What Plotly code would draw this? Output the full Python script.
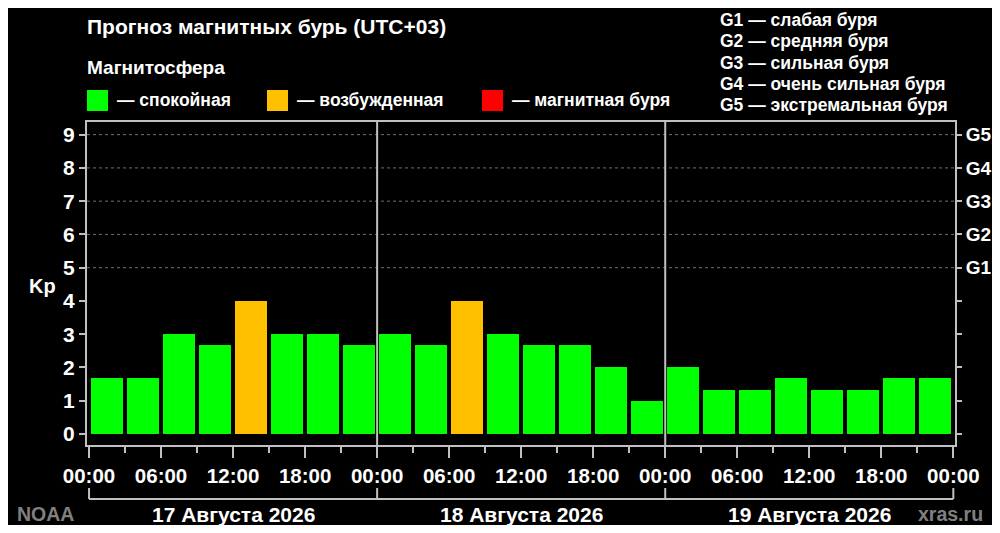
import plotly.graph_objects as go

# прогноз Kp по трёхчасовым интервалам (UTC+03)
days = ["17 Августа 2026", "18 Августа 2026", "19 Августа 2026"]
kp_day17 = [1.67, 1.67, 3.0, 2.67, 4.0, 3.0, 3.0, 2.67]
kp_day18 = [3.0, 2.67, 4.0, 3.0, 2.67, 2.67, 2.0, 1.0]
kp_day19 = [2.0, 1.33, 1.33, 1.67, 1.33, 1.33, 1.67, 1.67]
hour_labels = ["00:00", "06:00", "12:00", "18:00"]
storm_levels = ["G1", "G2", "G3", "G4", "G5"]
storm_names = ["слабая буря", "средняя буря", "сильная буря",
               "очень сильная буря", "экстремальная буря"]
legend_items = [("#00ff00", "— спокойная"), ("#ffc000", "— возбужденная"),
                ("#ff0000", "— магнитная буря")]

kp = kp_day17 + kp_day18 + kp_day19
hours = [3 * i + 1.5 for i in range(len(kp))]
colors = ["#ff0000" if v >= 5 else "#ffc000" if v >= 4 else "#00ff00" for v in kp]
total_h = 24 * len(days)
tickvals = list(range(0, total_h + 1, 6))
ticktext = [hour_labels[(t // 6) % 4] for t in tickvals]

# page has an 8px body margin, so the figure is smaller and shifted (no scrollbars)
OFF = 8
W, H = 1000 - 2 * OFF, 533 - 2 * OFF
L, R, T, B = 87 - OFF, 955 - OFF, 122 - OFF, 445 - OFF
def px(x):
    return (x - OFF - L) / (R - L)
def py(y):
    return (B - (y - OFF)) / (B - T)

FONT = "Liberation Sans"
GREY = "#c0c0c0"

fig = go.Figure()
fig.add_trace(go.Bar(x=hours, y=kp, width=2.67, marker=dict(color=colors, line=dict(width=0)),
                     hoverinfo="x+y"))
fig.add_trace(go.Scatter(x=[0], y=[0], yaxis="y2", mode="markers",
                         marker=dict(opacity=0), hoverinfo="skip"))

shapes = []
# пунктирная сетка на уровнях бурь
for k in range(5, 10):
    shapes.append(dict(type="line", xref="paper", yref="y", x0=0, x1=1, y0=k, y1=k,
                       line=dict(color="#707070", width=1, dash="dot"), layer="below"))
# разделители дней
for d in range(1, len(days)):
    shapes.append(dict(type="line", xref="x", yref="paper", x0=24 * d, x1=24 * d, y0=0, y1=1,
                       line=dict(color=GREY, width=2)))
# скобка под датами
shapes.append(dict(type="line", xref="x", yref="paper", x0=0, x1=total_h,
                   y0=py(499), y1=py(499), line=dict(color=GREY, width=2)))
for d in range(len(days) + 1):
    shapes.append(dict(type="line", xref="x", yref="paper", x0=24 * d, x1=24 * d,
                       y0=py(488), y1=py(499), line=dict(color=GREY, width=2)))

annotations = []
def txt(x, y, text, size, color="white", anchor="left", bold=True):
    annotations.append(dict(xref="paper", yref="paper", x=px(x), y=py(y), text=text,
                            showarrow=False, xanchor=anchor, yanchor="middle",
                            font=dict(family=FONT, size=size, color=color,
                                      weight="bold" if bold else "normal")))

txt(85, 27, "Прогноз магнитных бурь (UTC+03)", 21)
txt(85, 67, "Магнитосфера", 19)
leg_x = [87, 267, 482]
for (col, label), x0 in zip(legend_items, leg_x):
    shapes.append(dict(type="rect", xref="paper", yref="paper", x0=px(x0), x1=px(x0 + 21),
                       y0=py(111), y1=py(90), fillcolor=col, line=dict(width=0)))
    txt(x0 + 28, 100, label, 17.5)
for i, (g, name) in enumerate(zip(storm_levels, storm_names)):
    txt(718, 20 + 21.3 * i, f"{g} — {name}", 17.5)
txt(42, 286, "Kp", 20, anchor="center")
for d, label in enumerate(days):
    annotations.append(dict(xref="x", yref="paper", x=24 * d + 12, y=py(514), text=label,
                            showarrow=False, xanchor="center", yanchor="middle",
                            font=dict(family=FONT, size=21, color="white", weight="bold")))
txt(45, 514, "NOAA", 19.5, color="#808080", anchor="center")
txt(950, 514, "xras.ru", 19.5, color="#808080", anchor="center")

yrange = [-0.33, 9.38]
fig.update_layout(
    width=W, height=H,
    margin=dict(l=L, r=W - R, t=T, b=H - B, autoexpand=False),
    paper_bgcolor="black", plot_bgcolor="black",
    showlegend=False, bargap=0,
    font=dict(family=FONT, color="white"),
    shapes=shapes, annotations=annotations,
    xaxis=dict(range=[-0.17, total_h + 0.14], tickmode="array", tickvals=tickvals,
               ticktext=ticktext, ticks="outside", ticklen=11, tickwidth=2, tickcolor=GREY,
               showgrid=False, zeroline=False, showline=True, linecolor=GREY, linewidth=2,
               mirror=True, tickfont=dict(size=20.5, weight="bold", color="white"),
               minor=dict(tickmode="array", tickvals=list(range(3, total_h, 6)),
                          ticks="outside", ticklen=6, tickwidth=2, tickcolor=GREY),
               automargin=False, fixedrange=True),
    yaxis=dict(range=yrange, tickmode="array", tickvals=list(range(10)),
               ticks="outside", ticklen=6, tickwidth=2, tickcolor=GREY,
               showgrid=False, zeroline=False, showline=True, linecolor=GREY, linewidth=2,
               tickfont=dict(size=21, weight="bold", color="white"),
               automargin=False, fixedrange=True),
    yaxis2=dict(range=yrange, overlaying="y", side="right", tickmode="array",
                tickvals=list(range(10)), ticktext=[""] * 5 + storm_levels,
                ticks="outside", ticklen=5, tickwidth=2, tickcolor=GREY,
                showgrid=False, zeroline=False, showline=True, linecolor=GREY, linewidth=2,
                tickfont=dict(size=19, weight="bold", color="white"),
                automargin=False, fixedrange=True),
)

fig.write_html("out.html")
